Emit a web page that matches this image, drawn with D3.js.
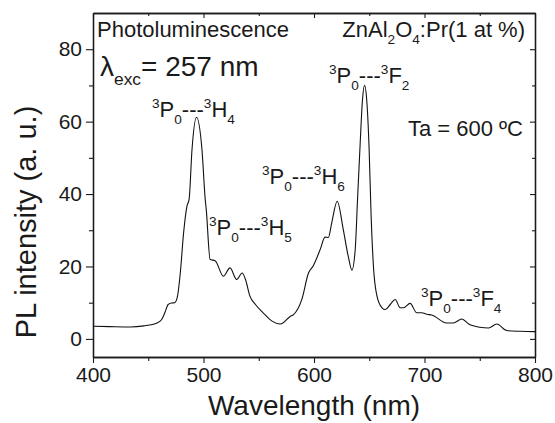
<!DOCTYPE html>
<html>
<head>
<meta charset="utf-8">
<script src="https://cdn.jsdelivr.net/npm/d3@7"></script>
<style>
  body { margin: 0; background: #fff; }
  text { font-family: "Liberation Sans", Arial, sans-serif; fill: #1a1a1a; }
</style>
</head>
<body>
<svg id="chart"></svg>
<script>
// PL spectrum
const wavelength = [400, 415, 434, 446, 458, 462, 465, 468, 471, 474, 476.5, 479, 482, 485, 487, 489.6, 493.7,
  498.6, 501.6, 502.5, 506, 510.5, 518, 524, 530, 535, 538, 542, 547, 554, 562, 569.5, 578.5, 581.5, 589,
  595, 599.5, 605.5, 610, 613, 616, 621, 626.5, 631, 634.3, 637.3, 639.4, 641.8, 643.9, 645.7, 647.9,
  649.9, 651.7, 653.8, 657, 661.5, 664.5, 669, 673.5, 678, 681, 687, 693, 697.5, 702, 706.5, 720, 726,
  733.8, 740, 750, 758, 765.4, 774.5, 786.5, 800];
const intensity = [3.5, 3.4, 3.3, 3.6, 4.4, 5.3, 7.2, 9.5, 9.9, 10.0, 11.8, 18.2, 29.3, 36.6, 38.6, 52.3, 61.2,
  52.3, 38.4, 35.7, 21.9, 21.6, 17.3, 19.6, 16.4, 18.2, 16.4, 11.8, 9.5, 7.2, 4.9, 4.1, 6.2, 6.7, 10.9,
  18.2, 20.3, 24.6, 28.1, 28.0, 32.0, 38.0, 30.2, 22.8, 19.0, 24.7, 38.5, 54.1, 66.1, 70.0, 65.2,
  52.3, 33.9, 20.0, 11.8, 8.6, 8.1, 9.5, 10.9, 8.6, 8.6, 9.8, 7.2, 7.2, 6.8, 6.6, 4.4, 4.4,
  5.5, 4.1, 3.2, 3.0, 4.1, 2.3, 2.1, 2.0];

const xTicks = [400, 500, 600, 700, 800];
const xMinor = [450, 550, 650, 750];
const yTicks = [0, 20, 40, 60, 80];
const yMinor = [10, 30, 50, 70];

const width = 555, height = 423;
const margin = { top: 13, right: 20, bottom: 66, left: 93 };
const w = width - margin.left - margin.right;
const h = height - margin.top - margin.bottom;

const svg = d3.select('#chart').attr('width', width).attr('height', height);
const chart = svg.append('g').attr('transform', `translate(${margin.left},${margin.top})`);

const x = d3.scaleLinear().domain([400, 800]).range([0, w]);
const y = d3.scaleLinear().domain([-5, 90]).range([h, 0]);

// axes: outward ticks on bottom/left, inward on top/right
function drawAxis(axis, transform, cls) {
  const g = chart.append('g').attr('class', cls).attr('transform', transform).call(axis);
  g.select('.domain').attr('stroke', '#1a1a1a').attr('stroke-width', 1.3);
  g.selectAll('.tick line').attr('stroke', '#1a1a1a').attr('stroke-width', 1.1);
  return g;
}

const bottom = drawAxis(d3.axisBottom(x).tickValues(xTicks).tickSize(6).tickSizeOuter(0).tickPadding(4),
  `translate(0,${h})`, 'x-axis');
bottom.selectAll('text').attr('font-size', 21).attr('fill', '#1a1a1a');
drawAxis(d3.axisBottom(x).tickValues(xMinor).tickSize(4).tickSizeOuter(0).tickFormat(''),
  `translate(0,${h})`, 'x-minor');

const left = drawAxis(d3.axisLeft(y).tickValues(yTicks).tickSize(7).tickSizeOuter(0).tickPadding(4),
  'translate(0,0)', 'y-axis');
left.selectAll('text').attr('font-size', 21).attr('fill', '#1a1a1a');
drawAxis(d3.axisLeft(y).tickValues(yMinor).tickSize(4).tickSizeOuter(0).tickFormat(''),
  'translate(0,0)', 'y-minor');

drawAxis(d3.axisBottom(x).tickValues(xTicks).tickSize(5).tickSizeOuter(0).tickFormat(''), 'translate(0,0)', 'top');
drawAxis(d3.axisBottom(x).tickValues(xMinor).tickSize(3).tickSizeOuter(0).tickFormat(''), 'translate(0,0)', 'top-minor');
drawAxis(d3.axisLeft(y).tickValues(yTicks).tickSize(5).tickSizeOuter(0).tickFormat(''), `translate(${w},0)`, 'right');
drawAxis(d3.axisLeft(y).tickValues(yMinor).tickSize(3).tickSizeOuter(0).tickFormat(''), `translate(${w},0)`, 'right-minor');

// spectrum
const pts = wavelength.map((d, i) => [d, intensity[i]]);
chart.append('path')
  .datum(pts)
  .attr('fill', 'none')
  .attr('stroke', '#111')
  .attr('stroke-width', 1.1)
  .attr('d', d3.line().x(d => x(d[0])).y(d => y(d[1])).curve(d3.curveMonotoneX));

// axis titles
svg.append('text')
  .attr('x', margin.left + w / 2).attr('y', 415)
  .attr('text-anchor', 'middle').attr('font-size', 28)
  .text('Wavelength (nm)');
svg.append('text')
  .attr('transform', 'translate(36,222) rotate(-90)')
  .attr('text-anchor', 'middle').attr('font-size', 29)
  .text('PL intensity (a. u.)');

// text with sub/superscripts
function rich(px, py, size, parts, anchor) {
  const t = svg.append('text').attr('x', px).attr('y', py)
    .attr('font-size', size).attr('text-anchor', anchor || 'start');
  let shift = 0;
  parts.forEach(p => {
    let target = 0, fs = size;
    if (p[1] === 'sub') { target = size * 0.32; fs = size * 0.62; }
    if (p[1] === 'sup') { target = -size * 0.4; fs = size * 0.62; }
    t.append('tspan').attr('dy', target - shift).attr('font-size', fs).text(p[0]);
    shift = target;
  });
  return t;
}

rich(97, 37, 22, [['Photoluminescence']]);
rich(525, 37, 22, [['ZnAl'], ['2', 'sub'], ['O'], ['4', 'sub'], [':Pr(1 at %)']], 'end');
rich(100, 76, 28, [['λ'], ['exc', 'sub'], ['= 257 nm']]);
rich(523, 136, 22, [['Ta = 600 ºC']], 'end');

const trans = (a, b) => [['3', 'sup'], ['P'], ['0', 'sub'], ['---'], ['3', 'sup'], [a], [b, 'sub']];
rich(152, 117, 22, trans('H', '4'));
rich(329, 83, 22, trans('F', '2'));
rich(262, 184, 22, trans('H', '6'));
rich(209, 235, 22, trans('H', '5'));
rich(421, 306, 22, trans('F', '4'));
</script>
</body>
</html>
